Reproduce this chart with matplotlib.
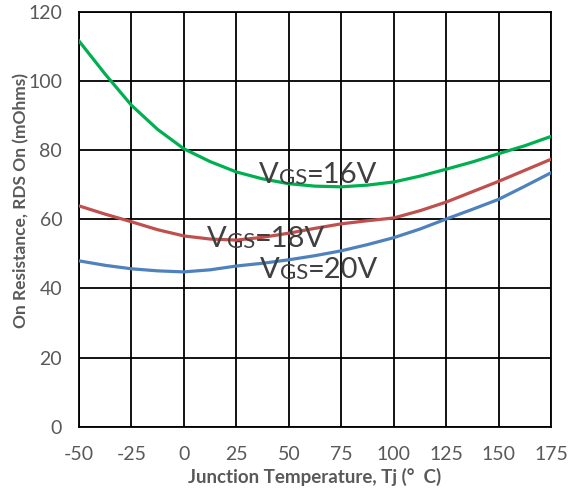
import matplotlib
matplotlib.use("Agg")
import matplotlib.pyplot as plt

# data
temps = [-50, -37.5, -25, -12.5, 0, 12.5, 25, 37.5, 50, 62.5, 75, 87.5,
         100, 112.5, 125, 137.5, 150, 162.5, 175]
rds_16v = [111.6, 102.0, 93.0, 86.0, 80.4, 76.7, 73.7, 71.7, 70.3, 69.6, 69.4, 69.9,
           70.8, 72.5, 74.5, 76.6, 79.0, 81.3, 84.0]
rds_18v = [63.9, 61.5, 59.3, 57.0, 55.2, 54.3, 54.0, 54.8, 56.0, 57.4, 58.7, 59.6,
           60.4, 62.5, 65.0, 68.0, 71.0, 74.2, 77.4]
rds_20v = [48.0, 46.7, 45.7, 45.1, 44.8, 45.4, 46.5, 47.3, 48.3, 49.5, 50.9, 52.7,
           54.7, 57.2, 60.1, 62.9, 65.8, 69.6, 73.5]
xticks = [-50, -25, 0, 25, 50, 75, 100, 125, 150, 175]
xticklabels = ['-50', '-25', '0', '25', '50', '75', '100', '125', '150', '175']
yticks = [0, 20, 40, 60, 80, 100, 120]

plt.rcParams['font.family'] = ['Lato', 'DejaVu Sans']
grey = '#595959'

fig = plt.figure(figsize=(5.76, 4.94), dpi=100)
ax = fig.add_axes([0.137, 0.136, 0.820, 0.840])

ax.plot(temps, rds_16v, color='#00B050', lw=2.3, zorder=3)
ax.plot(temps, rds_18v, color='#C0504D', lw=2.3, zorder=3)
ax.plot(temps, rds_20v, color='#4F81BD', lw=2.3, zorder=3)

ax.set_xlim(-50, 175)
ax.set_ylim(0, 120)
ax.set_xticks(xticks)
ax.set_xticklabels(xticklabels)
ax.set_yticks(yticks)
ax.grid(True, color='black', lw=1.3)
for s in ax.spines.values():
    s.set_color('black')
    s.set_linewidth(1.3)
ax.tick_params(length=0, labelsize=14, labelcolor=grey)
ax.tick_params(axis='y', pad=12)
ax.tick_params(axis='x', pad=14)

ax.set_xlabel('Junction Temperature, Tj (°  C)', fontsize=13.5, fontweight='bold',
              color=grey, labelpad=3)
ax.set_ylabel('On Resistance, RDS On (mOhms)', fontsize=12.5, fontweight='bold',
              color=grey)
ax.yaxis.set_label_coords(-0.106, 0.545)


def vgs_label(x, y, volts):
    # V, smaller GS, then the rest on the same baseline
    t1 = ax.text(x, y, 'V', fontsize=21, color='#404040', va='baseline', zorder=4)
    t2 = ax.annotate('GS', xy=(1, 0), xycoords=t1, fontsize=16, color='#404040',
                     va='bottom', ha='left', zorder=4)
    ax.annotate('=' + volts, xy=(1, 0), xycoords=t2, fontsize=21, color='#404040',
                va='bottom', ha='left', zorder=4)


vgs_label(35.8, 70.6, '16V')
vgs_label(11, 52.0, '18V')
vgs_label(36.2, 43.1, '20V')

fig.savefig('out.png', dpi=100)
